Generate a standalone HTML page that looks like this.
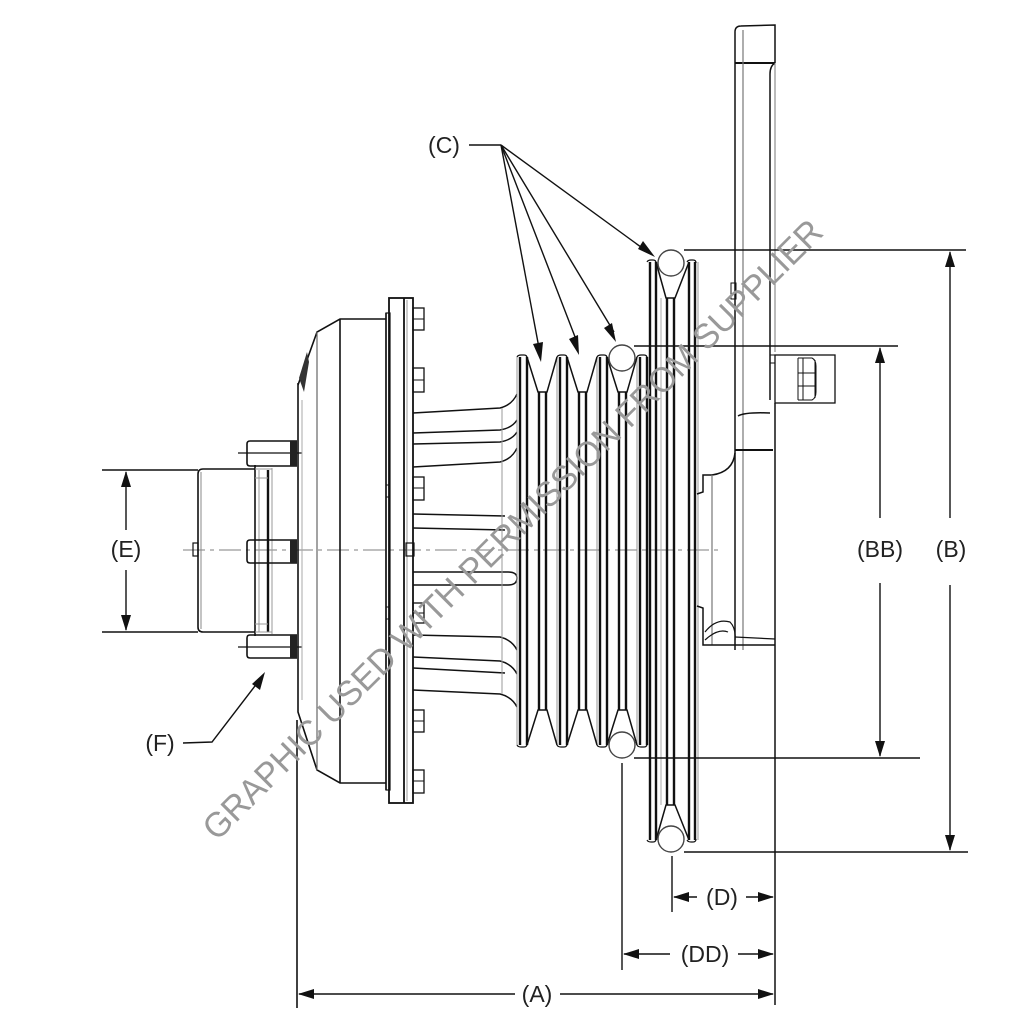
<!DOCTYPE html>
<html>
<head>
<meta charset="utf-8">
<style>
  html,body{margin:0;padding:0;background:#fff;}
  svg{display:block;}
  .lbl{font-family:"Liberation Sans",sans-serif;font-size:23px;fill:#222;}
</style>
</head>
<body>
<svg width="1024" height="1024" viewBox="0 0 1024 1024" xmlns="http://www.w3.org/2000/svg">
<rect width="1024" height="1024" fill="#fff"/>

<!-- center line -->
<line x1="183" y1="550" x2="722" y2="550" stroke="#999" stroke-width="1.2" stroke-dasharray="22,5,4,5"/>

<!-- ================= HUB (left) ================= -->
<g fill="none" stroke="#111" stroke-width="1.6">
  <path d="M255,469 L203,469 Q198,469 198,474 L198,627 Q198,632 203,632 L255,632"/>
  <line x1="201" y1="472" x2="201" y2="629" stroke="#888" stroke-width="1"/>
  <line x1="255" y1="465" x2="255" y2="636"/>
  <line x1="259" y1="470" x2="259" y2="632" stroke="#999" stroke-width="1"/>
  <line x1="268" y1="470" x2="268" y2="632" stroke-width="2.4"/>
  <line x1="272" y1="468" x2="272" y2="634" stroke="#999" stroke-width="1"/>
  <line x1="255" y1="478" x2="268" y2="478" stroke="#999" stroke-width="1"/>
  <line x1="255" y1="624" x2="268" y2="624" stroke="#999" stroke-width="1"/>
  <line x1="255" y1="469" x2="272" y2="469" stroke="#999" stroke-width="1"/>
  <line x1="255" y1="632" x2="272" y2="632" stroke="#999" stroke-width="1"/>
  <rect x="193" y="543" width="5" height="13" stroke-width="1.2"/>
  <path d="M297,441 L250,441 Q247,441 247,444 L247,463 Q247,466 250,466 L297,466"/>
  <path d="M297,540 L250,540 Q247,540 247,543 L247,560 Q247,563 250,563 L297,563"/>
  <path d="M297,635 L250,635 Q247,635 247,638 L247,655 Q247,658 250,658 L297,658"/>
  <line x1="238" y1="453" x2="302" y2="453" stroke-width="1.2"/>
  <line x1="238" y1="647" x2="302" y2="647" stroke-width="1.2"/>
</g>
<g fill="#222">
  <rect x="290" y="441" width="7" height="25"/>
  <rect x="290" y="540" width="7" height="23"/>
  <rect x="290" y="635" width="7" height="23"/>
</g>

<!-- ================= FAN DRIVE HOUSING ================= -->
<g fill="none" stroke="#111" stroke-width="1.6">
  <path d="M298,385 L317,332 L340,319 L386,319"/>
  <path d="M298,383 L298,712 L317,770 L340,783 L386,783"/>
  <line x1="297" y1="720" x2="297" y2="1008"/>
  <line x1="302" y1="400" x2="302" y2="700" stroke="#aaa" stroke-width="1"/>
  <line x1="317" y1="332" x2="317" y2="770" stroke="#666" stroke-width="1.2"/>
  <line x1="340" y1="319" x2="340" y2="783"/>
  <line x1="386" y1="313" x2="386" y2="790"/>
  <rect x="386" y="313" width="4" height="477" stroke-width="1.2"/>
  <rect x="389" y="298" width="24" height="505" stroke-width="1.8"/>
  <line x1="404" y1="298" x2="404" y2="803" stroke-width="1.8"/>
  <line x1="407" y1="300" x2="407" y2="801" stroke="#999" stroke-width="1"/>
  <rect x="386" y="485" width="4" height="12" stroke-width="1"/>
  <rect x="386" y="607" width="4" height="12" stroke-width="1"/>
  <rect x="413" y="308" width="11" height="22" stroke-width="1.3"/>
  <rect x="413" y="368" width="11" height="24" stroke-width="1.3"/>
  <rect x="413" y="477" width="11" height="23" stroke-width="1.3"/>
  <rect x="413" y="603" width="11" height="20" stroke-width="1.3"/>
  <rect x="413" y="710" width="11" height="22" stroke-width="1.3"/>
  <rect x="413" y="770" width="11" height="23" stroke-width="1.3"/>
  <rect x="406" y="543" width="8" height="13" stroke-width="1.2"/>
  <line x1="413" y1="319" x2="424" y2="319" stroke-width="1"/>
  <line x1="413" y1="380" x2="424" y2="380" stroke-width="1"/>
  <line x1="413" y1="488" x2="424" y2="488" stroke-width="1"/>
  <line x1="413" y1="613" x2="424" y2="613" stroke-width="1"/>
  <line x1="413" y1="721" x2="424" y2="721" stroke-width="1"/>
  <line x1="413" y1="781" x2="424" y2="781" stroke-width="1"/>
</g>
<path d="M299,378 L307,352 L309,362 L304,392 Z" fill="#333"/>

<!-- ================= FINS ================= -->
<g fill="none" stroke="#111" stroke-width="1.5">
  <path d="M413,413 L500,408 Q512,405 517,394"/>
  <path d="M413,433 L500,430 Q512,428 517,420"/>
  <path d="M413,444 L500,442 Q512,440 517,432"/>
  <path d="M413,467 L500,462 Q512,459 517,448"/>
  <path d="M413,514 L505,516"/>
  <path d="M413,528 L505,530"/>
  <path d="M413,572 L508,572 Q517,572 517,578 Q517,585 508,585 L413,585"/>
  <path d="M413,635 L500,637 Q512,640 517,650"/>
  <path d="M413,657 L500,661 Q512,664 517,674"/>
  <path d="M413,668 L505,673"/>
  <path d="M413,690 L500,694 Q512,697 517,707"/>
  <line x1="502" y1="408" x2="502" y2="694" stroke="#999" stroke-width="1"/>
</g>

<!-- ================= 3-GROOVE PULLEY ================= -->
<g fill="none" stroke="#111">
  <g stroke-width="2.4">
    <line x1="520" y1="357" x2="520" y2="745"/>
    <line x1="527" y1="357" x2="527" y2="745"/>
    <line x1="560" y1="357" x2="560" y2="745"/>
    <line x1="567" y1="357" x2="567" y2="745"/>
    <line x1="600" y1="357" x2="600" y2="745"/>
    <line x1="607" y1="357" x2="607" y2="745"/>
    <line x1="640" y1="357" x2="640" y2="745"/>
    <line x1="647" y1="357" x2="647" y2="745"/>
  </g>
  <g stroke="#999" stroke-width="1">
    <line x1="517" y1="357" x2="517" y2="745"/>
    <line x1="557" y1="357" x2="557" y2="745"/>
    <line x1="597" y1="357" x2="597" y2="745"/>
    <line x1="637" y1="357" x2="637" y2="745"/>
  </g>
  <g stroke-width="1.2">
    <path d="M517,357 Q518,355 521,355 L524,355 Q527,355 527,358"/>
    <path d="M557,357 Q558,355 561,355 L564,355 Q567,355 567,358"/>
    <path d="M597,357 Q598,355 601,355 L604,355 Q607,355 607,358"/>
    <path d="M637,357 Q638,355 641,355 L644,355 Q647,355 647,358"/>
    <path d="M517,745 Q518,747 521,747 L524,747 Q527,747 527,744"/>
    <path d="M557,745 Q558,747 561,747 L564,747 Q567,747 567,744"/>
    <path d="M597,745 Q598,747 601,747 L604,747 Q607,747 607,744"/>
    <path d="M637,745 Q638,747 641,747 L644,747 Q647,747 647,744"/>
  </g>
  <g stroke-width="1.5">
    <path d="M527,357 L538,392 L547,392 L557,357"/>
    <path d="M567,357 L578,392 L587,392 L597,357"/>
    <path d="M607,357 L618,392 L627,392 L637,357"/>
    <path d="M527,745 L538,710 L547,710 L557,745"/>
    <path d="M567,745 L578,710 L587,710 L597,745"/>
    <path d="M607,745 L618,710 L627,710 L637,745"/>
  </g>
  <g stroke-width="2.4">
    <line x1="539" y1="392" x2="539" y2="710"/>
    <line x1="546" y1="392" x2="546" y2="710"/>
    <line x1="579" y1="392" x2="579" y2="710"/>
    <line x1="586" y1="392" x2="586" y2="710"/>
    <line x1="619" y1="392" x2="619" y2="710"/>
    <line x1="626" y1="392" x2="626" y2="710"/>
  </g>
</g>

<!-- ================= LARGE SINGLE-GROOVE PULLEY ================= -->
<g fill="none" stroke="#111">
  <g stroke-width="2.4">
    <line x1="650" y1="262" x2="650" y2="840"/>
    <line x1="656" y1="262" x2="656" y2="840"/>
    <line x1="689" y1="262" x2="689" y2="840"/>
    <line x1="695" y1="262" x2="695" y2="840"/>
    <line x1="667" y1="298" x2="667" y2="805"/>
    <line x1="674" y1="298" x2="674" y2="805"/>
  </g>
  <line x1="698" y1="262" x2="698" y2="840" stroke="#999" stroke-width="1"/>
  <line x1="661" y1="298" x2="661" y2="805" stroke="#aaa" stroke-width="1"/>
  <g stroke-width="1.2">
    <path d="M647,262 Q648,260 651,260 L653,260 Q656,260 656,263"/>
    <path d="M687,262 Q688,260 691,260 L693,260 Q696,260 696,263"/>
    <path d="M647,840 Q648,842 651,842 L653,842 Q656,842 656,839"/>
    <path d="M687,840 Q688,842 691,842 L693,842 Q696,842 696,839"/>
  </g>
  <g stroke-width="1.5">
    <path d="M656,262 L666,298 L675,298 L689,262"/>
    <path d="M656,840 L666,805 L675,805 L689,840"/>
  </g>
</g>

<g fill="#fff" stroke="#444" stroke-width="1.4">
  <circle cx="622" cy="358" r="13"/>
  <circle cx="622" cy="745" r="13"/>
  <circle cx="671" cy="263" r="13"/>
  <circle cx="671" cy="839" r="13"/>
</g>

<!-- ================= BRACKET ================= -->
<g fill="none" stroke="#111" stroke-width="1.5">
  <path d="M735,650 L735,32 Q735,26 741,26 L775,25 L775,63"/>
  <line x1="735" y1="63" x2="775" y2="63" stroke-width="2"/>
  <path d="M775,63 Q770,66 770,74 L770,355"/>
  <line x1="775" y1="63" x2="775" y2="352" stroke="#777" stroke-width="1"/>
  <line x1="743" y1="30" x2="743" y2="650" stroke="#777" stroke-width="1.2"/>
  <rect x="731" y="283" width="5" height="16" stroke-width="1"/>
  <path d="M770,355 L770,400 M775,403 L775,1005"/>
  <rect x="775" y="355" width="60" height="48" stroke-width="1.3"/>
  <rect x="770" y="355" width="5" height="8" stroke-width="1"/>
  <path d="M798,358 L798,400 M803,358 L803,400 M815,360 L815,398 M798,358 L812,358 Q816,360 816,366 L816,392 Q816,398 812,400 L798,400" stroke-width="1"/>
  <line x1="798" y1="373" x2="815" y2="373" stroke-width="1"/>
  <line x1="798" y1="386" x2="815" y2="386" stroke-width="1"/>
  <path d="M738,416 Q745,412 770,413"/>
  <line x1="735" y1="450" x2="773" y2="450" stroke-width="2"/>
  <path d="M735,453 Q733,472 712,475 L703,475 L703,492 L697,494"/>
  <line x1="712" y1="475" x2="712" y2="645" stroke="#777" stroke-width="1.2"/>
  <path d="M697,606 L703,608 L703,645 L775,645"/>
  <path d="M705,632 Q716,618 730,622 Q736,628 735,640" stroke-width="1.2"/>
  <path d="M705,640 Q718,628 728,632" stroke-width="1.2"/>
  <line x1="735" y1="637" x2="775" y2="639" stroke-width="1.2"/>
</g>

<!-- ================= DIMENSION LINES ================= -->
<g stroke="#111" stroke-width="1.4" fill="none">
  <line x1="684" y1="250" x2="966" y2="250"/>
  <line x1="684" y1="852" x2="968" y2="852"/>
  <line x1="950" y1="252" x2="950" y2="518"/>
  <line x1="950" y1="585" x2="950" y2="850"/>
  <line x1="634" y1="346" x2="898" y2="346"/>
  <line x1="634" y1="758" x2="920" y2="758"/>
  <line x1="880" y1="348" x2="880" y2="518"/>
  <line x1="880" y1="583" x2="880" y2="756"/>
  <line x1="102" y1="470" x2="198" y2="470"/>
  <line x1="102" y1="632" x2="198" y2="632"/>
  <line x1="126" y1="472" x2="126" y2="530"/>
  <line x1="126" y1="570" x2="126" y2="630"/>
  <line x1="622" y1="763" x2="622" y2="970"/>
  <line x1="672" y1="856" x2="672" y2="912"/>
  <line x1="674" y1="897" x2="697" y2="897"/>
  <line x1="746" y1="897" x2="773" y2="897"/>
  <line x1="624" y1="954" x2="670" y2="954"/>
  <line x1="738" y1="954" x2="773" y2="954"/>
  <line x1="299" y1="994" x2="515" y2="994"/>
  <line x1="560" y1="994" x2="773" y2="994"/>
  <line x1="469" y1="145" x2="501" y2="145"/>
  <line x1="501" y1="145" x2="539" y2="348"/>
  <line x1="501" y1="145" x2="577" y2="342"/>
  <line x1="501" y1="145" x2="614" y2="332"/>
  <line x1="501" y1="145" x2="645" y2="250"/>
  <polyline points="183,743 212,742 258,682"/>
</g>
<g fill="#111">
  <polygon points="950,251 945,267 955,267"/>
  <polygon points="950,851 945,835 955,835"/>
  <polygon points="880,347 875,363 885,363"/>
  <polygon points="880,757 875,741 885,741"/>
  <polygon points="126,471 121,487 131,487"/>
  <polygon points="126,631 121,615 131,615"/>
  <polygon points="673,897 689,892 689,902"/>
  <polygon points="774,897 758,892 758,902"/>
  <polygon points="623,954 639,949 639,959"/>
  <polygon points="774,954 758,949 758,959"/>
  <polygon points="298,994 314,989 314,999"/>
  <polygon points="774,994 758,989 758,999"/>
  <polygon points="541,362 533,344 543,342"/>
  <polygon points="579,355 569,339 578,335"/>
  <polygon points="616,342 604,328 612,323"/>
  <polygon points="655,257 638,249 643,241"/>
  <polygon points="265,672 252,684 260,690"/>
</g>

<g class="lbl">
  <text x="444" y="153" text-anchor="middle">(C)</text>
  <text x="126" y="557" text-anchor="middle">(E)</text>
  <text x="160" y="751" text-anchor="middle">(F)</text>
  <text x="880" y="557" text-anchor="middle">(BB)</text>
  <text x="951" y="557" text-anchor="middle">(B)</text>
  <text x="722" y="905" text-anchor="middle">(D)</text>
  <text x="705" y="962" text-anchor="middle">(DD)</text>
  <text x="537" y="1002" text-anchor="middle">(A)</text>
</g>

<text x="521" y="538" text-anchor="middle" transform="rotate(-45 521 538)"
  font-family="Liberation Sans, sans-serif" font-size="35" fill="#999"
  textLength="860" lengthAdjust="spacingAndGlyphs">GRAPHIC USED WITH PERMISSION FROM SUPPLIER</text>
</svg>
</body>
</html>
